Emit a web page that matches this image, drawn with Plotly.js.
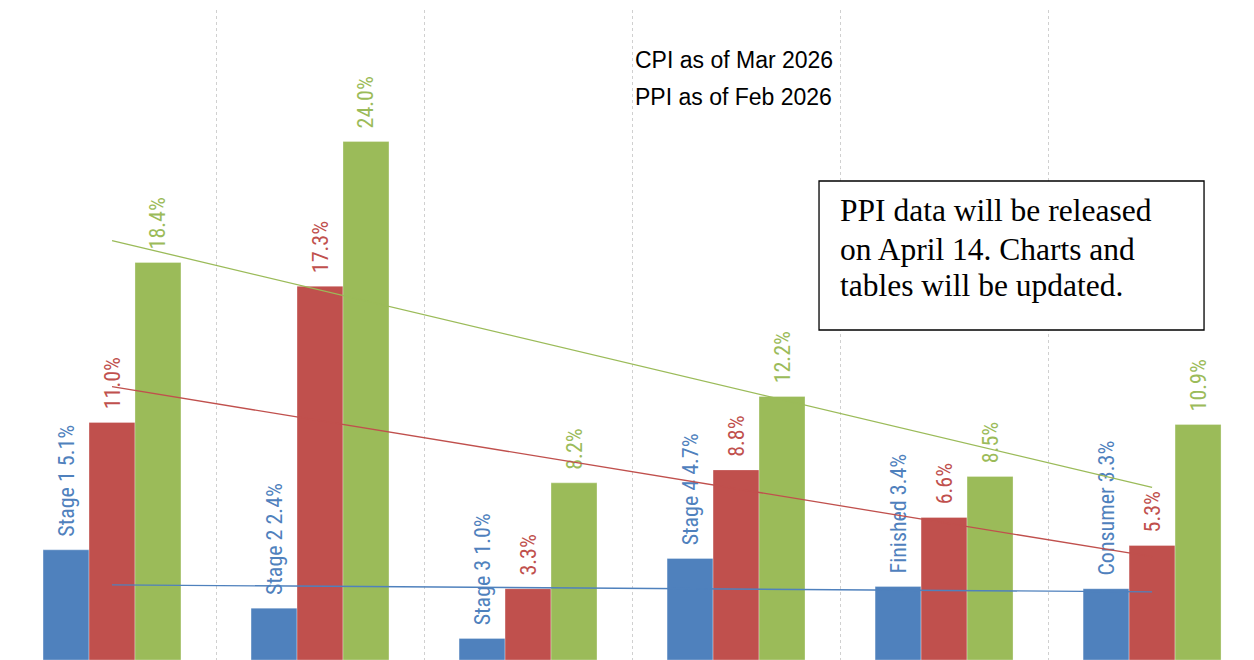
<!DOCTYPE html>
<html>
<head>
<meta charset="utf-8">
<script src="https://cdn.plot.ly/plotly-3.0.1.min.js"></script>
<style>html,body{margin:0;padding:0;background:#fff;}#chart{width:1254px;height:660px;}</style>
</head>
<body>
<div id="chart"></div>
<script>
// ---- data ----
const categories = ["Stage 1", "Stage 2", "Stage 3", "Stage 4", "Finished", "Consumer"];
const blueValues = [5.1, 2.4, 1.0, 4.7, 3.4, 3.3];
const redValues = [11.0, 17.3, 3.3, 8.8, 6.6, 5.3];
const greenValues = [18.4, 24.0, 8.2, 12.2, 8.5, 10.9];
const noteLines = ["CPI as of Mar 2026", "PPI as of Feb 2026"];
const boxLines = ["PPI data will be released", "on April 14. Charts and", "tables will be updated."];

const colors = {blue: "#4f81bd", red: "#c0504d", green: "#9bbb59"};
const labelFont = 'Liberation Sans Narrow, "Roboto Condensed", "DejaVu Sans Condensed", "Arial Narrow", sans-serif';
const noteFont = '"Liberation Sans", Arial, sans-serif';
const serifFont = '"Liberation Serif", "Times New Roman", serif';

const xs = categories.map((c, i) => i);

function trend(vals) {
  const n = vals.length;
  const mx = xs.reduce((a, b) => a + b, 0) / n;
  const my = vals.reduce((a, b) => a + b, 0) / n;
  let sxy = 0, sxx = 0;
  for (let i = 0; i < n; i++) { sxy += (xs[i] - mx) * (vals[i] - my); sxx += (xs[i] - mx) ** 2; }
  const b = sxy / sxx, a = my - b * mx;
  return xs.map(x => a + b * x);
}

const pad = "\u00a0\u00a0";
function barTrace(vals, color, texts) {
  return {
    type: "bar", x: xs, y: vals,
    marker: {color: color, line: {color: "rgba(255,255,255,0.5)", width: 0.6}},
    text: texts.map(t => pad + t), textposition: "outside", textangle: -90,
    textfont: {family: labelFont, size: 22, color: color},
    constraintext: "none", cliponaxis: false, hoverinfo: "skip", showlegend: false
  };
}
function lineTrace(vals, color) {
  return {
    type: "scatter", mode: "lines", x: xs, y: trend(vals),
    line: {color: color, width: 1.3}, hoverinfo: "skip", showlegend: false
  };
}

const data = [
  barTrace(blueValues, colors.blue, blueValues.map((v, i) => categories[i] + " " + v.toFixed(1) + "%")),
  barTrace(redValues, colors.red, redValues.map(v => v.toFixed(1) + "%")),
  barTrace(greenValues, colors.green, greenValues.map(v => v.toFixed(1) + "%")),
  lineTrace(blueValues, colors.blue),
  lineTrace(redValues, colors.red),
  lineTrace(greenValues, colors.green)
];

const gridVals = categories.map((c, i) => i - 0.5).concat([categories.length - 0.5]);

const boxY = [0.6908, 0.6323, 0.5754];
const annotations = [
  {xref: "paper", yref: "paper", x: 0.5016, y: 0.923, xanchor: "left", yanchor: "middle",
   text: noteLines[0], showarrow: false, font: {family: noteFont, size: 23, color: "#000"}},
  {xref: "paper", yref: "paper", x: 0.5016, y: 0.866, xanchor: "left", yanchor: "middle",
   text: noteLines[1], showarrow: false, font: {family: noteFont, size: 23, color: "#000"}}
].concat(boxLines.map((t, i) => ({
  xref: "paper", yref: "paper", x: 0.6661, y: boxY[i], xanchor: "left", yanchor: "middle",
  text: t, showarrow: false, font: {family: serifFont, size: 31.5, color: "#000"}
})));

const layout = {
  width: 1254, height: 660,
  margin: {l: 8, r: 0, t: 10, b: 0},
  paper_bgcolor: "#fff", plot_bgcolor: "#fff",
  barmode: "group", bargap: 0.337, bargroupgap: 0,
  xaxis: {range: [-0.5, 5.49], tickvals: gridVals, showticklabels: false, ticks: "",
          showgrid: true, gridcolor: "#d0d0d0", griddash: "dot", gridwidth: 1,
          zeroline: false, showline: false, fixedrange: true},
  yaxis: {range: [0, 30.09], showgrid: false, showticklabels: false, ticks: "",
          zeroline: false, showline: false, fixedrange: true},
  shapes: [{type: "rect", xref: "paper", yref: "paper",
            x0: 0.6509, x1: 0.9599, y0: 0.5077, y1: 0.7369,
            line: {color: "#000", width: 1.3}, fillcolor: "#fff", layer: "above"}],
  annotations: annotations
};

Plotly.newPlot("chart", data, layout, {staticPlot: true, displayModeBar: false});
</script>
</body>
</html>
